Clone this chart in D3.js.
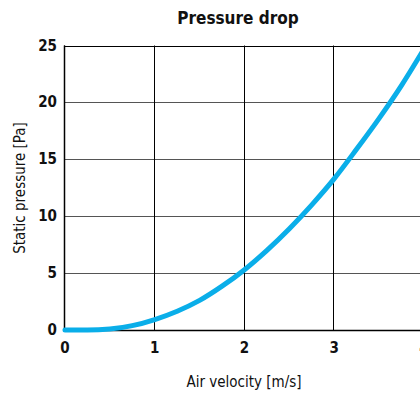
<!DOCTYPE html>
<html>
<head>
<meta charset="utf-8">
<script src="https://cdn.jsdelivr.net/npm/d3@7"></script>
<style>
  body { margin: 0; background: #fff; }
  svg text { font-family: "Liberation Sans Narrow", "Arial Narrow", "DejaVu Sans Condensed", sans-serif; fill: #111; }
  .tick-lab { font-weight: bold; font-size: 15px; }
</style>
</head>
<body>
<div id="plot"></div>
<script>
// air velocity [m/s] and static pressure [Pa]
const velocity = [0, 0.25, 0.5, 0.75, 1, 1.25, 1.5, 1.75, 2, 2.25, 2.5, 2.75, 3, 3.25, 3.5, 3.75, 4]
const pressure = [0, 0, 0.08, 0.38, 0.92, 1.65, 2.6, 3.85, 5.3, 7.0, 8.9, 11.0, 13.3, 15.9, 18.6, 21.5, 24.7]
const xTicks = [0, 1, 2, 3, 4],
      yTicks = [0, 5, 10, 15, 20, 25]

const w = 420, h = 396,
      margin = {top: 45.5, right: -4, bottom: 66, left: 65}

const svg = d3.select("#plot").append("svg")
  .attr("width", w)
  .attr("height", h)

const xScale = d3.scaleLinear()
        .domain([0, 4])
        .range([margin.left, w - margin.right]),
      yScale = d3.scaleLinear()
        .domain([0, 25])
        .range([h - margin.bottom, margin.top])

// horizontal grid
svg.append("g")
  .selectAll("line")
  .data(yTicks)
  .join("line")
  .attr("x1", xScale(0))
  .attr("x2", xScale(4))
  .attr("y1", d => Math.round(yScale(d)) + 0.5)
  .attr("y2", d => Math.round(yScale(d)) + 0.5)
  .attr("stroke", d => d === 25 ? "#000" : "#555")
  .attr("stroke-width", 1)

// vertical grid
svg.append("g")
  .selectAll("line")
  .data(xTicks)
  .join("line")
  .attr("x1", d => Math.round(xScale(d)) - 0.5)
  .attr("x2", d => Math.round(xScale(d)) - 0.5)
  .attr("y1", yScale(0))
  .attr("y2", yScale(25))
  .attr("stroke", "#000")
  .attr("stroke-width", 1)

// axes lines
svg.append("line")
  .attr("x1", xScale(0) - 0.5).attr("x2", xScale(0) - 0.5)
  .attr("y1", yScale(0)).attr("y2", yScale(25))
  .attr("stroke", "#000").attr("stroke-width", 1.5)
svg.append("line")
  .attr("x1", xScale(0)).attr("x2", xScale(4))
  .attr("y1", yScale(0) + 0.5).attr("y2", yScale(0) + 0.5)
  .attr("stroke", "#000").attr("stroke-width", 1.5)

// tick labels
svg.append("g")
  .selectAll("text")
  .data(xTicks)
  .join("text")
  .attr("class", "tick-lab")
  .attr("x", d => xScale(d))
  .attr("y", yScale(0) + 23)
  .style("text-anchor", "middle")
  .text(d => d)

svg.append("g")
  .selectAll("text")
  .data(yTicks)
  .join("text")
  .attr("class", "tick-lab")
  .attr("x", xScale(0) - 8)
  .attr("y", d => yScale(d) + 5)
  .style("text-anchor", "end")
  .text(d => d)

// title + axis labels
svg.append("text")
  .attr("x", 238)
  .attr("y", 24)
  .style("text-anchor", "middle")
  .style("font-weight", "bold")
  .style("font-size", "17px")
  .text("Pressure drop")

svg.append("text")
  .attr("x", 244)
  .attr("y", 387)
  .style("text-anchor", "middle")
  .style("font-size", "15px")
  .text("Air velocity [m/s]")

svg.append("text")
  .attr("transform", "translate(25, 188) rotate(-90)")
  .style("text-anchor", "middle")
  .style("font-size", "15px")
  .text("Static pressure  [Pa]")

// curve
const line = d3.line()
  .x((d, i) => xScale(velocity[i]))
  .y(d => yScale(d))
  .curve(d3.curveMonotoneX)

svg.append("path")
  .datum(pressure)
  .attr("d", line)
  .attr("fill", "none")
  .attr("stroke", "#0aaee9")
  .attr("stroke-width", 5)
  .attr("stroke-linecap", "round")
</script>
</body>
</html>
